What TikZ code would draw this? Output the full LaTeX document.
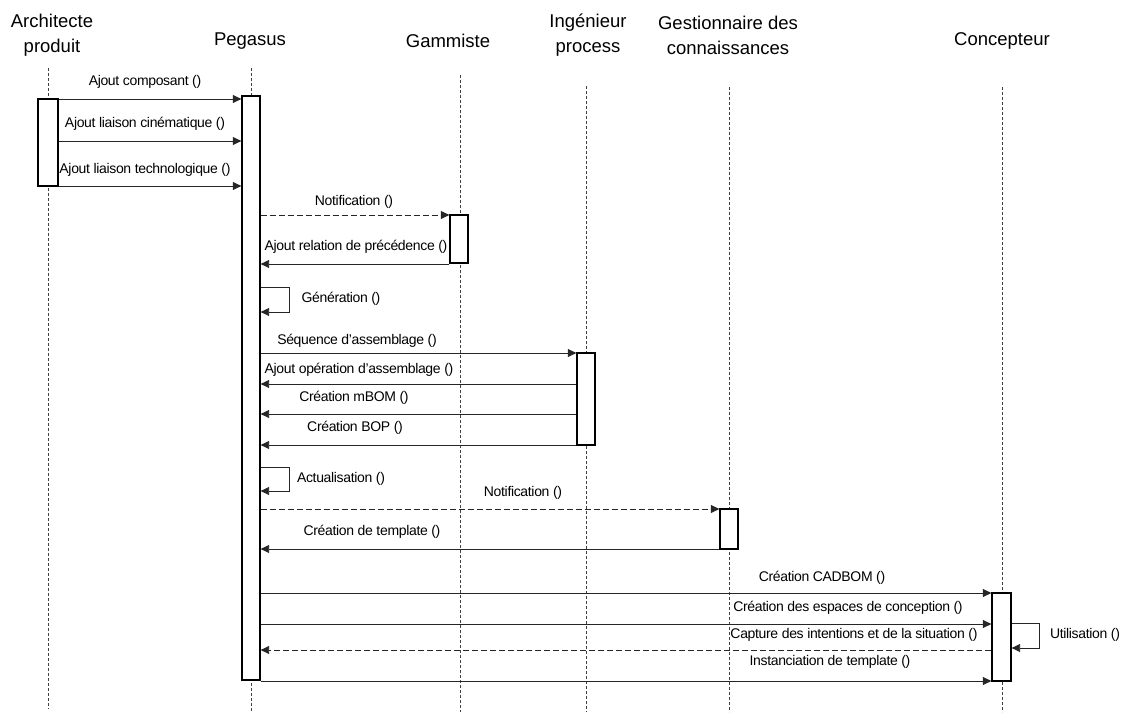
\documentclass[tikz,border=0pt]{standalone}
\usepackage{fontspec}
\setmainfont{Liberation Sans}
\newfontfamily\msgfont[LetterSpace=-2.4]{Liberation Sans}
\usetikzlibrary{arrows.meta}
\begin{document}
\begin{tikzpicture}[x=1pt,y=-1pt,
 lifeline/.style={dash pattern=on 3pt off 2pt, line width=0.7pt, draw=black!75},
 actbox/.style={draw=black, line width=1.3pt, fill=white, minimum width=18pt, inner sep=0pt},
 msg/.style={line width=0.9pt, draw=black!85, -{Triangle[length=8.5pt,width=8pt]}},
 rmsg/.style={msg, dash pattern=on 6pt off 3pt},
 lbl/.style={font=\msgfont\fontsize{14}{16}\selectfont, inner sep=0pt},
 hdr/.style={font=\fontsize{18.5}{25}\selectfont, align=center, inner sep=0pt}]
\useasboundingbox (0,0) rectangle (1122,714);
% headers
\node[hdr] (hArch) at (52,35) {Architecte\\produit};
\node[hdr] (hPeg) at (250,41) {Pegasus};
\node[hdr] (hGam) at (448,41) {Gammiste};
\node[hdr] (hIng) at (588,35) {Ingénieur\\process};
\node[hdr] (hGest) at (728,35) {Gestionnaire des\\connaissances};
\node[hdr] (hConc) at (1002,41) {Concepteur};
% lifelines
\coordinate (aT) at (48,68);   \coordinate (aB) at (48,709);
\coordinate (pT) at (251,68);  \coordinate (pB) at (251,712);
\coordinate (gT) at (460,75);  \coordinate (gB) at (460,712);
\coordinate (iT) at (586,86);  \coordinate (iB) at (586,712);
\coordinate (kT) at (729,87);  \coordinate (kB) at (729,712);
\coordinate (cT) at (1002,87); \coordinate (cB) at (1002,712);
\draw[lifeline] (aT) -- (aB);
\draw[lifeline] (pT) -- (pB);
\draw[lifeline] (gT) -- (gB);
\draw[lifeline] (iT) -- (iB);
\draw[lifeline] (kT) -- (kB);
\draw[lifeline] (cT) -- (cB);
% activation boxes
\node[actbox, minimum width=20pt, minimum height=87pt] (aBox) at (48,142.5) {};
\node[actbox, minimum height=584pt] (pBox) at (251,388) {};
\node[actbox, minimum height=48pt] (gBox) at (459,239) {};
\node[actbox, minimum height=92pt] (iBox) at (586,399) {};
\node[actbox, minimum height=40pt] (kBox) at (729,529) {};
\node[actbox, minimum width=19pt, minimum height=88pt] (cBox) at (1001.5,637) {};
% message levels
\coordinate (m1) at (0,99);
\coordinate (m2) at (0,141);
\coordinate (m3) at (0,186);
\coordinate (m4) at (0,215);
\coordinate (m5) at (0,264);
\coordinate (g1) at (0,287);
\coordinate (g2) at (0,312);
\coordinate (gx) at (289,0);
\coordinate (m6) at (0,353);
\coordinate (m7) at (0,384);
\coordinate (m8) at (0,414);
\coordinate (m9) at (0,445);
\coordinate (u1) at (0,467);
\coordinate (u2) at (0,491);
\coordinate (m10) at (0,509);
\coordinate (m11) at (0,549);
\coordinate (m12) at (0,593);
\coordinate (m13) at (0,624);
\coordinate (m14) at (0,650);
\coordinate (m15) at (0,681);
\coordinate (w1) at (0,623);
\coordinate (w2) at (0,648);
\coordinate (wx) at (1039,0);
% messages
\draw[msg] (aBox.east |- m1) -- (pBox.west |- m1);
\draw[msg] (aBox.east |- m2) -- (pBox.west |- m2);
\draw[msg] (aBox.east |- m3) -- (pBox.west |- m3);
\draw[rmsg] (pBox.east |- m4) -- (gBox.west |- m4);
\draw[msg] (gBox.west |- m5) -- (pBox.east |- m5);
\draw[msg] (pBox.east |- g1) -- (gx |- g1) -- (gx |- g2) -- (pBox.east |- g2);
\draw[msg] (pBox.east |- m6) -- (iBox.west |- m6);
\draw[msg] (iBox.west |- m7) -- (pBox.east |- m7);
\draw[msg] (iBox.west |- m8) -- (pBox.east |- m8);
\draw[msg] (iBox.west |- m9) -- (pBox.east |- m9);
\draw[msg] (pBox.east |- u1) -- (gx |- u1) -- (gx |- u2) -- (pBox.east |- u2);
\draw[rmsg] (pBox.east |- m10) -- (kBox.west |- m10);
\draw[msg] (kBox.west |- m11) -- (pBox.east |- m11);
\draw[msg] (pBox.east |- m12) -- (cBox.west |- m12);
\draw[msg] (pBox.east |- m13) -- (cBox.west |- m13);
\draw[rmsg] (cBox.west |- m14) -- (pBox.east |- m14);
\draw[msg] (pBox.east |- m15) -- (cBox.west |- m15);
\draw[msg] (cBox.east |- w1) -- (wx |- w1) -- (wx |- w2) -- (cBox.east |- w2);
% labels
\node[lbl] (l1) at (145,82) {Ajout composant ()};
\node[lbl] (l2) at (145,124) {Ajout liaison cinématique ()};
\node[lbl] (l3) at (145,170) {Ajout liaison technologique ()};
\node[lbl] (l4) at (354,202) {Notification ()};
\node[lbl] (l5) at (356,247) {Ajout relation de précédence ()};
\node[lbl] (l6) at (341,299) {Génération ()};
\node[lbl] (l7) at (357,341) {Séquence d’assemblage ()};
\node[lbl] (l8) at (359,370) {Ajout opération d’assemblage ()};
\node[lbl] (l9) at (354,398) {Création mBOM ()};
\node[lbl] (l10) at (355,428) {Création BOP ()};
\node[lbl] (l11) at (341,479) {Actualisation ()};
\node[lbl] (l12) at (523,493) {Notification ()};
\node[lbl] (l13) at (372,532) {Création de template ()};
\node[lbl] (l14) at (822,578) {Création CADBOM ()};
\node[lbl] (l15) at (848,608) {Création des espaces de conception ()};
\node[lbl] (l16) at (854,635) {Capture des intentions et de la situation ()};
\node[lbl] (l17) at (830,662) {Instanciation de template ()};
\node[lbl] (l18) at (1085,635) {Utilisation ()};
\end{tikzpicture}
\end{document}
